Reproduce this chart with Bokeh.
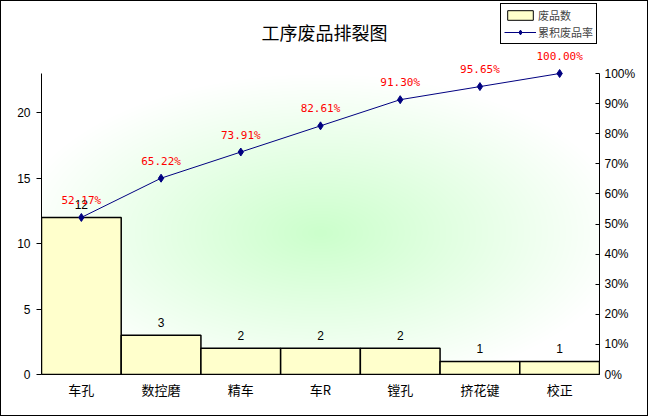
import numpy as np
from bokeh.plotting import figure
from bokeh.layouts import column
from bokeh.models import (FactorRange, Range1d, LinearAxis, FixedTicker, NumeralTickFormatter,
                          ColumnDataSource, LabelSet, Label, Legend, LegendItem)
from bokeh.core.properties import value
from bokeh.embed import file_html
from bokeh.resources import INLINE

# ---- data ----
categories = ["车孔", "数控磨", "精车", "车R", "镗孔", "挤花键", "校正"]
counts = [12, 3, 2, 2, 2, 1, 1]
cum_pct = [0.5217, 0.6522, 0.7391, 0.8261, 0.9130, 0.9565, 1.0000]
pct_labels = ["52.17%", "65.22%", "73.91%", "82.61%", "91.30%", "95.65%", "100.00%"]
count_labels = ["12", "3", "2", "2", "2", "1", "1"]
count_ticks = [0, 5, 10, 15, 20]
pct_ticks = [0, 0.1, 0.2, 0.3, 0.4, 0.5, 0.6, 0.7, 0.8, 0.9, 1.0]
count_max = 23
pct_max = 1.0
title_text = "工序废品排裂图"
legend_bar = "废品数"
legend_line = "累积废品率"

CJK = "Noto Sans CJK SC"
NUM = "Liberation Sans"
MONO = "DejaVu Sans Mono"
BAR_FILL = "#FFFFCC"
LINE_C = "#000080"

W = 646
STRIP_H = 44
MAIN_H = 370
B_LEFT, B_RIGHT, B_BOTTOM = 40, 48, 41
FRAME_PX = 301          # pixel height of the 0..23 span
TOP_EXTRA = (MAIN_H - B_BOTTOM) / FRAME_PX   # frame extends above the plotted area

# ---------------- top strip: title + legend ----------------
# (its frame is aligned with the main plot's frame, so x data units = canvas pixels)
strip = figure(width=W, height=STRIP_H, x_range=Range1d(B_LEFT, W - B_RIGHT),
               y_range=Range1d(STRIP_H, 0),
               output_backend="svg", toolbar_location=None, title=None,
               x_axis_location=None, y_axis_location=None,
               min_border_left=0, min_border_right=0, min_border_top=0, min_border_bottom=0)
strip.xgrid.visible = False
strip.ygrid.visible = False
strip.outline_line_color = None
strip.background_fill_color = "white"
strip.border_fill_color = "white"

strip.add_layout(Label(x=323, y=30, text=title_text, text_align="center", text_baseline="middle",
                       text_font=CJK, text_font_size="18px", text_color="black"))

nan = float("nan")
dummy = ColumnDataSource(dict(x=[nan], y=[nan]))
d_bar = strip.vbar(x="x", top="y", width=1, source=dummy, fill_color=BAR_FILL,
                   line_color="black", line_width=1)
d_line = strip.line(x="x", y="y", source=dummy, line_color=LINE_C, line_width=1)
d_pts = strip.scatter(x="x", y="y", source=dummy, marker="diamond", size=8,
                      fill_color=LINE_C, line_color=LINE_C)
legend = Legend(items=[LegendItem(label=legend_bar, renderers=[d_bar]),
                       LegendItem(label=legend_line, renderers=[d_line, d_pts])],
                location="top_right", orientation="vertical")
legend.padding = 3
legend.spacing = 1
legend.margin = 2
legend.glyph_width = 32
legend.glyph_height = 12
legend.label_height = 12
legend.label_standoff = 2
legend.label_text_font = CJK
legend.label_text_font_size = "11px"
legend.label_text_baseline = "middle"
legend.border_line_color = "black"
legend.border_line_alpha = 1
legend.border_line_width = 1
legend.background_fill_color = "white"
legend.background_fill_alpha = 1
strip.add_layout(legend, "center")

# ---------------- main chart ----------------
p = figure(x_range=FactorRange(*categories, range_padding=0),
           y_range=Range1d(0, count_max * TOP_EXTRA),
           width=W, height=MAIN_H, output_backend="svg", toolbar_location=None, title=None,
           min_border_left=B_LEFT, min_border_right=B_RIGHT, min_border_top=0,
           min_border_bottom=B_BOTTOM)
p.extra_y_ranges = {"pct": Range1d(0, pct_max * TOP_EXTRA)}
p.xgrid.visible = False
p.ygrid.visible = False
p.outline_line_color = None
p.background_fill_color = "white"
p.border_fill_color = "white"

# background radial gradient (decoration of the plot area)
gh, gw = 301, 558
vv, uu = np.mgrid[0:gh, 0:gw]
u = (uu + 0.5) / gw
v = (vv + 0.5) / gh
r = np.sqrt(((u - 0.5) / 0.52) ** 2 + ((v - 0.47) / 0.5) ** 2)
g = np.clip(1 - r / 1.05, 0, 1)
img = np.empty((gh, gw), dtype=np.uint32)
view = img.view(dtype=np.uint8).reshape((gh, gw, 4))
view[:, :, 0] = (255 - 51 * g).astype(np.uint8)
view[:, :, 1] = 255
view[:, :, 2] = (255 - 51 * g).astype(np.uint8)
view[:, :, 3] = 255
p.image_rgba(image=[img], x=0, y=0, dw=len(categories), dh=count_max)

src = ColumnDataSource(dict(cat=categories, cnt=counts, pct=cum_pct,
                            pl=pct_labels, cl=count_labels))

bars = p.vbar(x="cat", top="cnt", width=1.0, source=src, fill_color=BAR_FILL,
              line_color="black", line_width=1.5)
ln = p.line(x="cat", y="pct", source=src, y_range_name="pct", line_color=LINE_C, line_width=1)
pts = p.scatter(x="cat", y="pct", source=src, y_range_name="pct", marker="diamond", size=8,
                fill_color=LINE_C, line_color=LINE_C)

p.add_layout(LabelSet(x="cat", y="cnt", text="cl", source=src, text_align="center",
                      text_baseline="middle", y_offset=13, text_font=value(NUM),
                      text_font_size="12px", text_color="black"))
p.add_layout(LabelSet(x="cat", y="pct", text="pl", source=src, y_range_name="pct",
                      text_align="center", text_baseline="middle", y_offset=17,
                      text_font=value(MONO), text_font_size="11px", text_color="red"))

# axes
ya = p.yaxis[0]
ya.bounds = (0, count_max)
ya.ticker = FixedTicker(ticks=count_ticks)
ya.major_tick_out = 5
ya.major_tick_in = 0
ya.minor_tick_out = 0
ya.minor_tick_in = 0
ya.major_label_standoff = 6
ya.major_label_text_font = NUM
ya.major_label_text_font_size = "12px"
ya.major_label_text_color = "black"
ya.axis_line_color = "black"
ya.major_tick_line_color = "black"

ra = LinearAxis(y_range_name="pct", ticker=FixedTicker(ticks=pct_ticks),
                formatter=NumeralTickFormatter(format="0%"), bounds=(0, pct_max))
ra.major_tick_in = 4
ra.major_tick_out = 0
ra.minor_tick_in = 0
ra.minor_tick_out = 0
ra.major_label_standoff = 5
ra.major_label_text_font = NUM
ra.major_label_text_font_size = "12px"
ra.major_label_text_color = "black"
ra.axis_line_color = "black"
p.add_layout(ra, "right")

xa = p.xaxis[0]
xa.major_tick_in = 0
xa.major_tick_out = 0
xa.major_label_standoff = 5
xa.major_label_text_font = CJK
xa.major_label_text_font_size = "13px"
xa.major_label_text_color = "black"
xa.axis_line_color = "black"

layout = column(strip, p, spacing=0)
layout.styles = {"border": "1px solid black", "background-color": "white"}

open("out.html", "w").write(file_html(layout, INLINE))
